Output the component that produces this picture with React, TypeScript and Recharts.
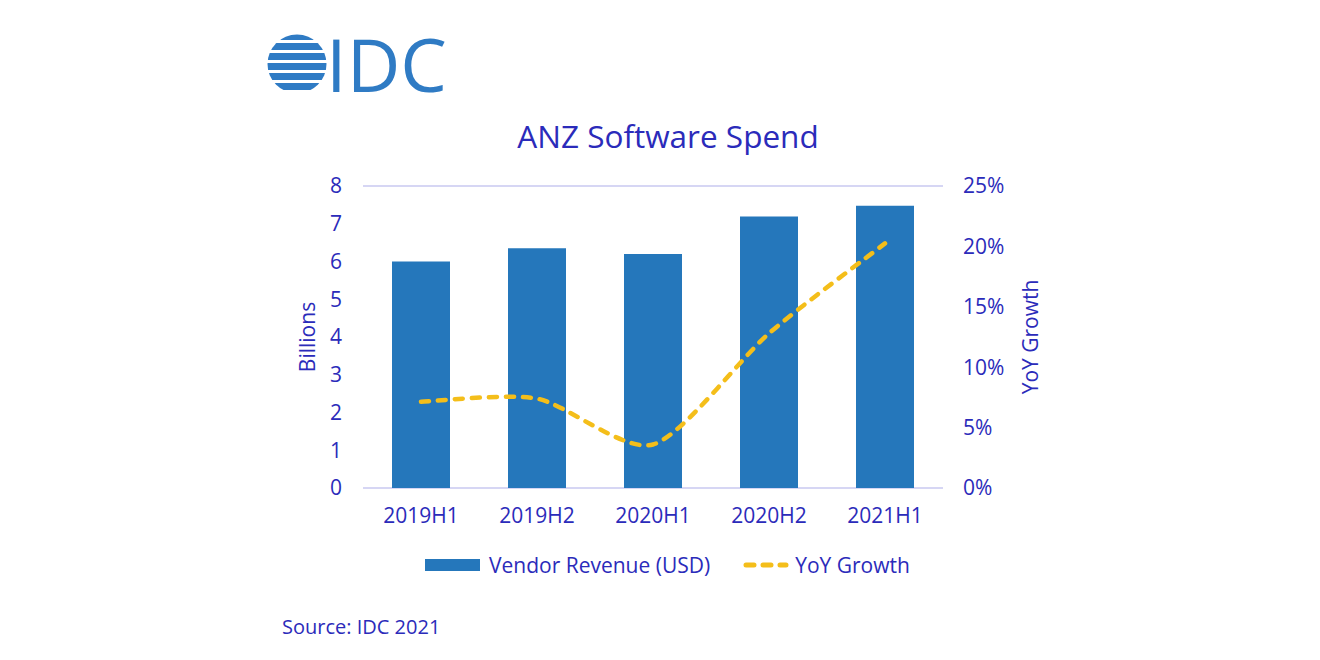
import {
    ComposedChart,
    Bar,
    Line,
    XAxis,
    YAxis,
    CartesianGrid,
    Legend,
    Label,
} from "recharts";

const periods = ["2019H1", "2019H2", "2020H1", "2020H2", "2021H1"];
const vendorRevenue = [6.0, 6.35, 6.2, 7.19, 7.48];
const yoyGrowth = [0.0715, 0.074, 0.036, 0.128, 0.2025];
const billionTicks = [0, 1, 2, 3, 4, 5, 6, 7, 8];
const growthTicks = [0, 0.05, 0.1, 0.15, 0.2, 0.25];

const TEXT = "#2B2BBA";
const BAR = "#2577BB";
const LINE = "#F4BE1A";
const FONT = "'Open Sans', sans-serif";

const chartData = periods.map((p, i) => ({
    period: p,
    revenue: vendorRevenue[i],
    growth: yoyGrowth[i],
}));

const tickStyle = { fontSize: 21, fill: TEXT, fontFamily: FONT };

// Excel-like smoothed line: tighter than plain Catmull-Rom
const excelSmooth = (context: any) => {
    let pts: [number, number][] = [];
    const k = 1 / 8;
    return {
        areaStart() {},
        areaEnd() {},
        lineStart() {
            pts = [];
        },
        point(x: number, y: number) {
            pts.push([+x, +y]);
        },
        lineEnd() {
            if (!pts.length) return;
            context.moveTo(pts[0][0], pts[0][1]);
            for (let i = 0; i < pts.length - 1; i++) {
                const p0 = pts[i - 1] || pts[i];
                const p1 = pts[i];
                const p2 = pts[i + 1];
                const p3 = pts[i + 2] || p2;
                context.bezierCurveTo(
                    p1[0] + (p2[0] - p0[0]) * k,
                    p1[1] + (p2[1] - p0[1]) * k,
                    p2[0] - (p3[0] - p1[0]) * k,
                    p2[1] - (p3[1] - p1[1]) * k,
                    p2[0],
                    p2[1]
                );
            }
        },
    };
};

const ChartLegend = () => (
    <div style={{ display: "flex", alignItems: "center", marginLeft: 425, height: 30, fontFamily: FONT, fontSize: 21, color: TEXT }}>
        <span style={{ width: 55, height: 12, background: BAR, display: "inline-block" }} />
        <span style={{ marginLeft: 9 }}>Vendor Revenue (USD)</span>
        <svg width={46} height={12} style={{ marginLeft: 33 }}>
            <line x1={3} y1={6} x2={43} y2={6} stroke={LINE} strokeWidth={5} strokeDasharray="8 9" strokeLinecap="round" />
        </svg>
        <span style={{ marginLeft: 6 }}>YoY Growth</span>
    </div>
);

const Logo = () => (
    <svg width={260} height={110} style={{ position: "absolute", left: 262, top: 0 }}>
        <defs>
            <clipPath id="globe">
                <circle cx={35} cy={64} r={29.5} />
            </clipPath>
        </defs>
        <g clipPath="url(#globe)" fill="#2F7BC4">
            <rect x={0} y={34} width={70} height={6} />
            <rect x={0} y={43} width={70} height={7} />
            <rect x={0} y={53} width={70} height={7} />
            <rect x={0} y={63} width={70} height={7} />
            <rect x={0} y={73} width={70} height={7} />
            <rect x={0} y={83} width={70} height={7} />
        </g>
        <text x={64} y={92} fontFamily={FONT} fontSize={74} fill="#2F7BC4">IDC</text>
    </svg>
);

export default function App() {
    return (
        <div style={{ position: "absolute", left: 0, top: 0, width: 1320, height: 660, background: "#fff", fontFamily: FONT }}>
            <Logo />
            <div style={{ position: "absolute", left: 0, width: 1336, top: 114, textAlign: "center", fontSize: 31.5, color: TEXT }}>
                ANZ Software Spend
            </div>
            <ComposedChart
                width={1320}
                height={660}
                data={chartData}
                margin={{ top: 186, right: 277, left: 283, bottom: 102 }}
                barCategoryGap="25%"
            >
                <CartesianGrid vertical={false} stroke="#C8C8F0" strokeWidth={1.3} />
                <XAxis
                    dataKey="period"
                    axisLine={false}
                    tickLine={false}
                    tick={tickStyle}
                    height={40}
                    tickMargin={14}
                />
                <YAxis
                    yAxisId="left"
                    domain={[0, 8]}
                    ticks={billionTicks}
                    axisLine={false}
                    tickLine={false}
                    tick={tickStyle}
                    width={80}
                    tickMargin={15}
                >
                    <Label value="Billions" angle={-90} position="insideLeft" offset={25} style={{ ...tickStyle, textAnchor: "middle" }} />
                </YAxis>
                <YAxis
                    yAxisId="right"
                    orientation="right"
                    domain={[0, 0.25]}
                    ticks={growthTicks}
                    tickFormatter={(v: number) => `${Math.round(v * 100)}%`}
                    axisLine={false}
                    tickLine={false}
                    tick={tickStyle}
                    width={100}
                    tickMargin={14}
                >
                    <Label value="YoY Growth" angle={-90} position="insideRight" offset={12} style={{ ...tickStyle, textAnchor: "middle" }} />
                </YAxis>
                <Legend verticalAlign="bottom" height={30} content={<ChartLegend />} wrapperStyle={{ left: 0, width: 1320, top: 550 }} />
                <Bar yAxisId="left" dataKey="revenue" name="Vendor Revenue (USD)" fill={BAR} isAnimationActive={false} />
                <Line
                    yAxisId="right"
                    dataKey="growth"
                    name="YoY Growth"
                    type={excelSmooth as any}
                    stroke={LINE}
                    strokeWidth={4.5}
                    strokeDasharray="8 9"
                    strokeLinecap="round"
                    dot={false}
                    activeDot={false}
                    isAnimationActive={false}
                />
            </ComposedChart>
            <div style={{ position: "absolute", left: 282, top: 613, fontSize: 20, color: TEXT }}>Source: IDC 2021</div>
        </div>
    );
}
